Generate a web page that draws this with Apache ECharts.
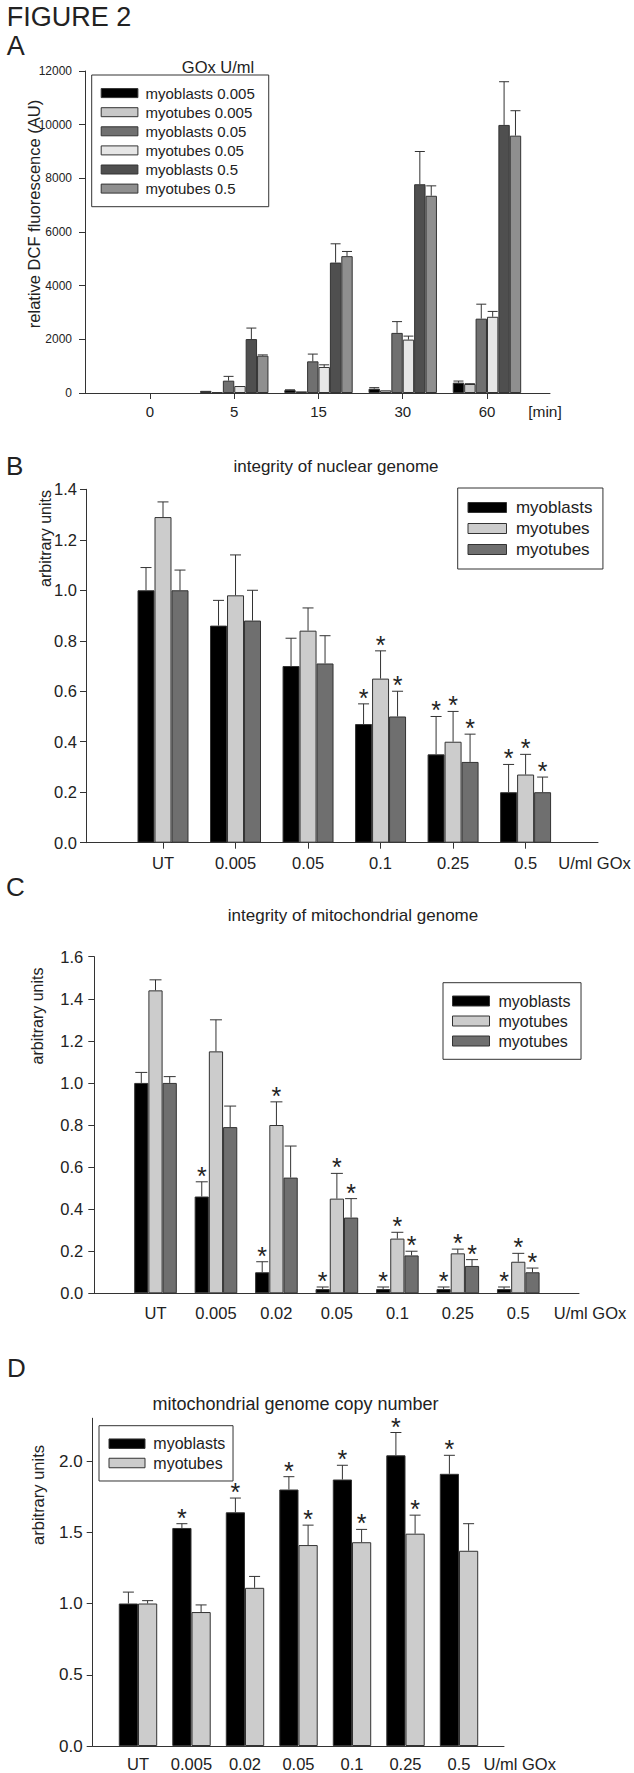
<!DOCTYPE html>
<html>
<head>
<meta charset="utf-8">
<script src="https://cdn.jsdelivr.net/npm/echarts@6/dist/echarts.min.js"></script>
<style>
html,body{margin:0;padding:0;background:#ffffff;}
#main{width:634px;height:1773px;}
</style>
</head>
<body>
<div id="main"></div>
<script>
// ================= DATA =================
// Panel A: relative DCF fluorescence (AU) over time
const catsA = ['0', '5', '15', '30', '60'];
const namesA = ['myoblasts 0.005', 'myotubes 0.005', 'myoblasts 0.05', 'myotubes 0.05', 'myoblasts 0.5', 'myotubes 0.5'];
const a_mb0005 = [0, 80, 110, 160, 385];
const a_mb0005Sd = [0, 0, 10, 40, 60];
const a_mt0005 = [0, 30, 60, 100, 335];
const a_mt0005Sd = [0, 0, 0, 0, 12];
const a_mb005 = [0, 460, 1180, 2240, 2770];
const a_mb005Sd = [0, 160, 270, 420, 540];
const a_mt005 = [0, 260, 970, 1990, 2840];
const a_mt005Sd = [0, 0, 80, 130, 200];
const a_mb05 = [0, 2010, 4860, 7780, 9990];
const a_mb05Sd = [0, 410, 700, 1220, 1610];
const a_mt05 = [0, 1390, 5100, 7350, 9590];
const a_mt05Sd = [0, 30, 175, 370, 930];
const ticksA = [0, 2000, 4000, 6000, 8000, 10000, 12000];

// Panel B: integrity of nuclear genome
const catsB = ['UT', '0.005', '0.05', '0.1', '0.25', '0.5'];
const namesB = ['myoblasts', 'myotubes', 'myotubes'];
const b_mb = [1.00, 0.86, 0.70, 0.47, 0.35, 0.20];
const b_mbSd = [0.09, 0.10, 0.11, 0.08, 0.15, 0.11];
const b_mbSig = [0, 0, 0, 1, 1, 1];
const b_mt = [1.29, 0.98, 0.84, 0.65, 0.40, 0.27];
const b_mtSd = [0.06, 0.16, 0.09, 0.11, 0.12, 0.08];
const b_mtSig = [0, 0, 0, 1, 1, 1];
const b_mt2 = [1.00, 0.88, 0.71, 0.50, 0.32, 0.20];
const b_mt2Sd = [0.08, 0.12, 0.11, 0.10, 0.11, 0.06];
const b_mt2Sig = [0, 0, 0, 1, 1, 1];
const ticksB = [0, 0.2, 0.4, 0.6, 0.8, 1.0, 1.2, 1.4];

// Panel C: integrity of mitochondrial genome
const catsC = ['UT', '0.005', '0.02', '0.05', '0.1', '0.25', '0.5'];
const namesC = ['myoblasts', 'myotubes', 'myotubes'];
const c_mb = [1.00, 0.46, 0.10, 0.02, 0.02, 0.02, 0.02];
const c_mbSd = [0.05, 0.07, 0.05, 0.01, 0.01, 0.01, 0.01];
const c_mbSig = [0, 1, 1, 1, 1, 1, 1];
const c_mt = [1.44, 1.15, 0.80, 0.45, 0.26, 0.19, 0.15];
const c_mtSd = [0.05, 0.15, 0.11, 0.12, 0.03, 0.02, 0.04];
const c_mtSig = [0, 0, 1, 1, 1, 1, 1];
const c_mt2 = [1.00, 0.79, 0.55, 0.36, 0.18, 0.13, 0.10];
const c_mt2Sd = [0.03, 0.10, 0.15, 0.09, 0.02, 0.03, 0.02];
const c_mt2Sig = [0, 0, 0, 1, 1, 1, 1];
const ticksC = [0, 0.2, 0.4, 0.6, 0.8, 1.0, 1.2, 1.4, 1.6];

// Panel D: mitochondrial genome copy number
const catsD = ['UT', '0.005', '0.02', '0.05', '0.1', '0.25', '0.5'];
const namesD = ['myoblasts', 'myotubes'];
const d_mb = [1.00, 1.53, 1.64, 1.80, 1.87, 2.04, 1.91];
const d_mbSd = [0.08, 0.03, 0.10, 0.09, 0.10, 0.16, 0.13];
const d_mbSig = [0, 1, 1, 1, 1, 1, 1];
const d_mt = [1.00, 0.94, 1.11, 1.41, 1.43, 1.49, 1.37];
const d_mtSd = [0.02, 0.05, 0.08, 0.14, 0.09, 0.13, 0.19];
const d_mtSig = [0, 0, 0, 1, 1, 1, 0];
const ticksD = [0, 0.5, 1.0, 1.5, 2.0];

// ================= STYLE =================
const FONT = '"Liberation Sans", Arial, Helvetica, sans-serif';
const TXT = '#222222';
const LINE = '#333333';

const option = {
  animation: false,
  backgroundColor: '#ffffff',
  grid: [], xAxis: [], yAxis: [], series: [], legend: [], graphic: []
};
const labelOf = {};

function addPanel(p) {
  const gi = option.grid.length;
  const xo = option.xAxis.length;
  const yo = option.yAxis.length;
  const h = p.bottom - p.top;
  option.grid.push({left: p.axisX, top: p.top, width: p.axisRight - p.axisX, height: h, containLabel: false});
  option.grid.push({left: p.innerL, top: p.top, width: p.innerR - p.innerL, height: h, containLabel: false});
  // outer axes: axis lines + y labels
  option.xAxis.push({type: 'value', gridIndex: gi, min: 0, max: 1,
    axisLine: {show: true, lineStyle: {color: LINE, width: 1}},
    axisTick: {show: false}, axisLabel: {show: false}, splitLine: {show: false}});
  option.yAxis.push({type: 'value', gridIndex: gi, min: p.min, max: p.max, interval: p.interval,
    axisLine: {show: true, lineStyle: {color: LINE, width: 1}},
    axisTick: {show: true, length: 6, lineStyle: {color: LINE}, customValues: p.ticks},
    axisLabel: {fontSize: p.yFont, color: TXT, fontFamily: FONT, margin: p.yMargin, customValues: p.ticks,
      formatter: p.yFmt},
    splitLine: {show: false}});
  // inner axes: categories and bars
  option.xAxis.push({type: 'category', gridIndex: gi + 1, data: p.cats,
    axisLine: {show: false},
    axisTick: {show: p.xTicks, alignWithLabel: true, length: 6, lineStyle: {color: LINE}},
    axisLabel: {fontSize: p.xFont, color: TXT, fontFamily: FONT, margin: p.xMargin, interval: 0,
      lineHeight: p.xFont},
    splitLine: {show: false}});
  option.yAxis.push({type: 'value', gridIndex: gi + 1, min: p.min, max: p.max, show: false});

  const n = p.series.length;
  const gapFrac = parseFloat(p.gap) / 100;
  p.series.forEach((s, k) => {
    const id = p.key + '|' + k;
    labelOf[id] = s.name;
    option.series.push({type: 'bar', name: id, xAxisIndex: xo + 1, yAxisIndex: yo + 1,
      data: s.values.map(v => (v === 0 ? '-' : v)), barGap: '0%', barCategoryGap: p.gap, silent: true,
      itemStyle: {color: s.color, borderColor: LINE, borderWidth: 1},
      emphasis: {disabled: true}});
    const errData = s.values.map((v, i) => [i, v, s.sd[i], s.sig ? s.sig[i] : 0]);
    option.series.push({type: 'custom', xAxisIndex: xo + 1, yAxisIndex: yo + 1, data: errData,
      clip: false, silent: true, z: 5, encode: {x: 0, y: 1},
      renderItem: function (params, api) {
        const ci = api.value(0), v = api.value(1), sd = api.value(2), sig = api.value(3);
        const band = api.size([1, 0])[0];
        const bw = band * (1 - gapFrac) / n;
        const base = api.coord([ci, v]);
        const x = base[0] + (k - (n - 1) / 2) * bw;
        const top = api.coord([ci, v + sd])[1];
        const children = [];
        if (sd > 0) {
          children.push({type: 'line', shape: {x1: x, y1: base[1], x2: x, y2: top},
            style: {stroke: LINE, lineWidth: 1}});
          children.push({type: 'line', shape: {x1: x - p.cap / 2, y1: top, x2: x + p.cap / 2, y2: top},
            style: {stroke: LINE, lineWidth: 1}});
        }
        if (sig) {
          children.push({type: 'text', x: x, y: top - p.starOff,
            style: {text: '*', fontSize: p.starFont, fontFamily: FONT, fill: TXT, lineHeight: 14,
              align: 'center', verticalAlign: 'middle', textAlign: 'center', textVerticalAlign: 'middle'}});
        }
        return {type: 'group', children: children};
      }});
  });
  const lg = p.legend;
  option.legend.push({
    data: p.series.map((s, k) => p.key + '|' + k),
    orient: 'vertical', left: lg.left, top: lg.top, padding: lg.padding,
    itemWidth: lg.iw, itemHeight: lg.ih, itemGap: lg.gap, icon: 'rect',
    borderColor: LINE, borderWidth: 1, backgroundColor: '#ffffff', selectedMode: false,
    itemStyle: {borderColor: LINE, borderWidth: 1},
    textStyle: {fontSize: lg.font, fontFamily: FONT, color: TXT, lineHeight: lg.font, padding: [0, 0, 0, lg.tp]},
    formatter: function (name) { return labelOf[name]; }
  });
}

function txt(text, x, y, size, align, rot, lh) {
  option.graphic.push({type: 'text', x: x, y: y, rotation: rot || 0, silent: true,
    style: {text: text, fontSize: size, fontFamily: FONT, fill: TXT, lineHeight: lh || size,
      align: align, verticalAlign: 'middle', textAlign: align, textVerticalAlign: 'middle'}});
}

const fmt1 = v => v.toFixed(1);

// Panel A
addPanel({key: 'A', cats: catsA, axisX: 85, axisRight: 550, top: 71, bottom: 393,
  innerL: 107.9, innerR: 529.1, min: ticksA[0], max: ticksA[ticksA.length - 1], interval: ticksA[1] - ticksA[0],
  ticks: ticksA, yFmt: v => String(Math.round(v)),
  yFont: 12, yMargin: 13, xFont: 15, xMargin: 11.2, xTicks: true, gap: '18.8%', cap: 10, starOff: 6, starFont: 25,
  series: [
    {name: namesA[0], values: a_mb0005, sd: a_mb0005Sd, color: '#000000'},
    {name: namesA[1], values: a_mt0005, sd: a_mt0005Sd, color: '#c8c8c8'},
    {name: namesA[2], values: a_mb005, sd: a_mb005Sd, color: '#707070'},
    {name: namesA[3], values: a_mt005, sd: a_mt005Sd, color: '#e6e6e6'},
    {name: namesA[4], values: a_mb05, sd: a_mb05Sd, color: '#4f4f4f'},
    {name: namesA[5], values: a_mt05, sd: a_mt05Sd, color: '#8f8f8f'}
  ],
  legend: {left: 91.7, top: 75, padding: [10.6, 14, 10.6, 9], iw: 36.7, ih: 9, gap: 4.1, font: 15, tp: 2.6}
});

// Panel B
addPanel({key: 'B', cats: catsB, axisX: 86, axisRight: 598, top: 489.3, bottom: 842.7,
  innerL: 126.74, innerR: 561.86, min: ticksB[0], max: ticksB[ticksB.length - 1], interval: 0.2,
  ticks: ticksB, yFmt: fmt1,
  yFont: 16.5, yMargin: 9, xFont: 16.5, xMargin: 11.75, xTicks: true, gap: '29.7%', cap: 11, starOff: 6, starFont: 25,
  series: [
    {name: namesB[0], values: b_mb, sd: b_mbSd, sig: b_mbSig, color: '#000000'},
    {name: namesB[1], values: b_mt, sd: b_mtSd, sig: b_mtSig, color: '#cccccc'},
    {name: namesB[2], values: b_mt2, sd: b_mt2Sd, sig: b_mt2Sig, color: '#6f6f6f'}
  ],
  legend: {left: 457.7, top: 488, padding: [11, 10.5, 11, 9.8], iw: 38.5, ih: 10, gap: 4, font: 17, tp: 4.4}
});

// Panel C
addPanel({key: 'C', cats: catsC, axisX: 94.3, axisRight: 579, top: 956.7, bottom: 1293.3,
  innerL: 125.27, innerR: 548.5, min: ticksC[0], max: ticksC[ticksC.length - 1], interval: 0.2,
  ticks: ticksC, yFmt: fmt1,
  yFont: 16.5, yMargin: 11, xFont: 16.5, xMargin: 11.75, xTicks: false, gap: '29.5%', cap: 12, starOff: 6, starFont: 25,
  series: [
    {name: namesC[0], values: c_mb, sd: c_mbSd, sig: c_mbSig, color: '#000000'},
    {name: namesC[1], values: c_mt, sd: c_mtSd, sig: c_mtSig, color: '#cccccc'},
    {name: namesC[2], values: c_mt2, sd: c_mt2Sd, sig: c_mt2Sig, color: '#6f6f6f'}
  ],
  legend: {left: 443, top: 982.7, padding: [10.3, 10.5, 10.3, 9], iw: 37, ih: 10, gap: 4, font: 16, tp: 4}
});

// Panel D
addPanel({key: 'D', cats: catsD, axisX: 92.7, axisRight: 504, top: 1418.25, bottom: 1746,
  innerL: 111.25, innerR: 485.75, min: 0, max: 2.3, interval: 0.5,
  ticks: ticksD,
  yFmt: v => (Math.abs(v * 2 - Math.round(v * 2)) < 1e-6 ? v.toFixed(1) : ''),
  yFont: 17, yMargin: 10, xFont: 16.5, xMargin: 10, xTicks: false, gap: '28.2%', cap: 11, starOff: 6, starFont: 25,
  series: [
    {name: namesD[0], values: d_mb, sd: d_mbSd, sig: d_mbSig, color: '#000000'},
    {name: namesD[1], values: d_mt, sd: d_mtSd, sig: d_mtSig, color: '#cccccc'}
  ],
  legend: {left: 99, top: 1425.7, padding: [10, 7.7, 10, 9.5], iw: 36, ih: 9.5, gap: 3.3, font: 16, tp: 3.3}
});

// Texts
txt('FIGURE 2', 6.7, 17, 27, 'left', 0, 20);
txt('A', 6.7, 46, 27, 'left', 0, 20);
txt('GOx U/ml', 218, 66.7, 16.5, 'center');
txt('relative DCF fluorescence (AU)', 33.5, 214, 16.5, 'center', Math.PI / 2);
txt('[min]', 545, 411.7, 15.5, 'center');

txt('B', 6, 466, 26, 'left', 0, 20);
txt('integrity of nuclear genome', 336, 466, 17, 'center');
txt('arbitrary units', 45, 538.5, 16, 'center', Math.PI / 2);
txt('U/ml GOx', 594.5, 862.7, 16.5, 'center');

txt('C', 6, 887, 26, 'left', 0, 20);
txt('integrity of mitochondrial genome', 353, 915, 17, 'center');
txt('arbitrary units', 37.8, 1016, 16, 'center', Math.PI / 2);
txt('U/ml GOx', 590, 1313.3, 16.5, 'center');

txt('D', 7, 1367.5, 26, 'left', 0, 20);
txt('mitochondrial genome copy number', 295.5, 1404, 18, 'center');
txt('arbitrary units', 37.8, 1495, 16.5, 'center', Math.PI / 2);
txt('U/ml GOx', 519.7, 1764.3, 16.5, 'center');

const chart = echarts.init(document.getElementById('main'), null, {renderer: 'svg', width: 634, height: 1773});
chart.setOption(option);
</script>
</body>
</html>
